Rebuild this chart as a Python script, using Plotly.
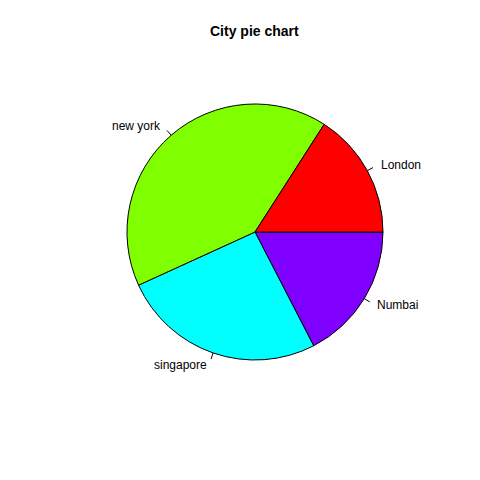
import math
import plotly.graph_objects as go

labels = ["London", "new york", "singapore", "Numbai"]
values = [21, 54, 34, 23]
colors = ["#FF0000", "#80FF00", "#00FFFF", "#8000FF"]
title = "City pie chart"

W = H = 480
cx, cy, r = 255, 232, 128  # pixel geometry of the pie

# R draws counterclockwise from 3 o'clock; emulate with reversed order clockwise from 3 o'clock
fig = go.Figure()
fig.add_trace(go.Pie(
    labels=labels[::-1], values=values[::-1], sort=False,
    direction="clockwise", rotation=90,
    marker=dict(colors=colors[::-1], line=dict(color="black", width=1)),
    textinfo="none", hoverinfo="label+value", showlegend=False,
    domain=dict(x=[(cx - r) / W, (cx + r) / W], y=[1 - (cy + r) / H, 1 - (cy - r) / H]),
))

total = sum(values)
cum = 0
shapes, annotations = [], []
for lab, v in zip(labels, values):
    mid = (cum + v / 2) / total * 2 * math.pi
    cum += v
    dx, dy = math.cos(mid), math.sin(mid)
    x1, y1 = cx + r * dx, cy - r * dy
    x2, y2 = cx + 1.05 * r * dx, cy - 1.05 * r * dy
    shapes.append(dict(type="line", xref="paper", yref="paper",
                       x0=x1 / W, y0=1 - y1 / H, x1=x2 / W, y1=1 - y2 / H,
                       line=dict(color="black", width=1)))
    tx, ty = cx + 1.1 * r * dx, cy - 1.1 * r * dy
    annotations.append(dict(text=lab, xref="paper", yref="paper",
                            x=tx / W, y=1 - ty / H, showarrow=False,
                            xanchor="right" if dx < 0 else "left", yanchor="middle",
                            font=dict(family="Liberation Sans, Arial", size=12, color="black")))

annotations.append(dict(text="<b>" + title + "</b>", xref="paper", yref="paper",
                        x=254 / W, y=1 - 31 / H, showarrow=False,
                        xanchor="center", yanchor="middle",
                        font=dict(family="Liberation Sans, Arial", size=14, color="black")))

fig.update_layout(width=W, height=H, margin=dict(l=0, r=0, t=0, b=0),
                  paper_bgcolor="white", plot_bgcolor="white",
                  shapes=shapes, annotations=annotations)
fig.write_html("out.html")
